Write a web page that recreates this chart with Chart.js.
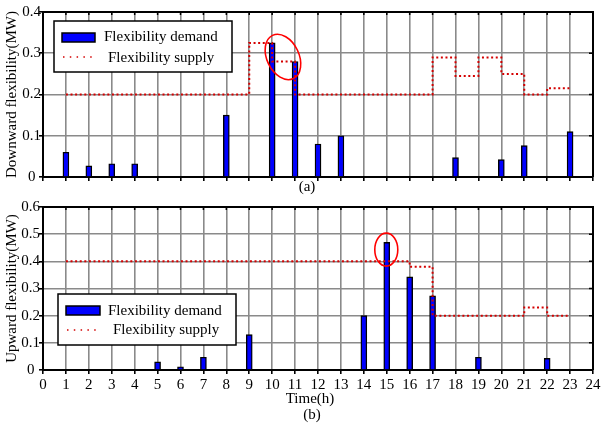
<!DOCTYPE html>
<html>
<head>
<meta charset="utf-8">
<script src="https://cdn.jsdelivr.net/npm/chart.js@4.4.0/dist/chart.umd.min.js"></script>
<style>
body { margin: 0; background: #fff; }
#wrap { position: relative; width: 605px; height: 428px; }
#chartA { position: absolute; left: 0; top: 0; }
#chartB { position: absolute; left: 0; top: 195px; }
</style>
</head>
<body>
<div id="wrap">
  <canvas id="chartA" width="605" height="195"></canvas>
  <canvas id="chartB" width="605" height="233"></canvas>
</div>
<script>
// hours 1..23 for the supply step lines
var supplyHours = [1,2,3,4,5,6,7,8,9,10,11,12,13,14,15,16,17,18,19,20,21,22,23];

// (a) downward flexibility
var downHours = [1, 2, 3, 4, 8, 10, 11, 12, 13, 18, 20, 21, 23];
var downDemand = [0.06, 0.027, 0.032, 0.032, 0.15, 0.325, 0.28, 0.08, 0.1, 0.047, 0.042, 0.076, 0.11];
var downSupply = [0.2, 0.2, 0.2, 0.2, 0.2, 0.2, 0.2, 0.2, 0.325, 0.28, 0.2, 0.2, 0.2, 0.2, 0.2, 0.2,
                  0.29, 0.245, 0.29, 0.25, 0.2, 0.215, 0.215];

// (b) upward flexibility
var upHours = [5, 6, 7, 9, 14, 15, 16, 17, 19, 22];
var upDemand = [0.03, 0.012, 0.047, 0.13, 0.2, 0.47, 0.343, 0.273, 0.047, 0.043];
var upSupply = [0.4, 0.4, 0.4, 0.4, 0.4, 0.4, 0.4, 0.4, 0.4, 0.4, 0.4, 0.4, 0.4, 0.4, 0.4,
                0.38, 0.2, 0.2, 0.2, 0.2, 0.23, 0.2, 0.2];

var legendLabels = ['Flexibility demand', 'Flexibility supply'];

var FONT = 'Liberation Serif';
var RED = '#d40000';

function toPoints(xs, ys) {
    var pts = [];
    for (var i = 0; i < xs.length; i++) {
        pts.push({x: xs[i], y: ys[i]});
    }
    return pts;
}

// frame, inner ticks, ellipse, legend box and the loose texts
var extras = {
    id: 'extras',
    afterDraw: function(chart, args, o) {
        var ctx = chart.ctx;
        var a = chart.chartArea;
        var sx = chart.scales.x, sy = chart.scales.y;
        ctx.save();

        // top and right border
        ctx.strokeStyle = '#000';
        ctx.lineWidth = 2;
        ctx.beginPath();
        ctx.moveTo(a.left, a.top);
        ctx.lineTo(a.right, a.top);
        ctx.lineTo(a.right, a.bottom);
        ctx.stroke();

        // inward ticks on top and right
        ctx.lineWidth = 1.5;
        ctx.beginPath();
        sx.ticks.forEach(function(t) {
            var px = sx.getPixelForValue(t.value);
            ctx.moveTo(px, a.top);
            ctx.lineTo(px, a.top + 3);
        });
        sy.ticks.forEach(function(t) {
            var py = sy.getPixelForValue(t.value);
            ctx.moveTo(a.right, py);
            ctx.lineTo(a.right - 4, py);
        });
        ctx.stroke();

        // red ellipse
        var e = o.ellipse;
        ctx.strokeStyle = '#ff0000';
        ctx.lineWidth = 1.6;
        ctx.beginPath();
        ctx.ellipse(sx.getPixelForValue(e.x), sy.getPixelForValue(e.y), e.rx, e.ry, e.rot, 0, Math.PI * 2);
        ctx.stroke();

        // legend
        var L = o.legend;
        ctx.fillStyle = '#fff';
        ctx.fillRect(L.x, L.y, L.w, L.h);
        ctx.strokeStyle = '#000';
        ctx.lineWidth = 1.5;
        ctx.strokeRect(L.x, L.y, L.w, L.h);

        ctx.fillStyle = '#0000ff';
        ctx.fillRect(L.sw[0], L.sw[1], L.sw[2], L.sw[3]);
        ctx.strokeStyle = '#000';
        ctx.lineWidth = 1.5;
        ctx.strokeRect(L.sw[0], L.sw[1], L.sw[2], L.sw[3]);

        ctx.strokeStyle = RED;
        ctx.lineWidth = 1.5;
        ctx.setLineDash([1.5, 5.3]);
        ctx.beginPath();
        ctx.moveTo(L.dots[0], L.dots[2]);
        ctx.lineTo(L.dots[1], L.dots[2]);
        ctx.stroke();
        ctx.setLineDash([]);

        ctx.fillStyle = '#000';
        ctx.font = '15px "' + FONT + '"';
        ctx.textAlign = 'left';
        ctx.textBaseline = 'middle';
        ctx.fillText(legendLabels[0], L.t1[0], L.t1[1]);
        ctx.fillText(legendLabels[1], L.t2[0], L.t2[1]);

        // captions under the axis
        ctx.textAlign = 'center';
        o.texts.forEach(function(t) {
            ctx.fillText(t[0], t[1], t[2]);
        });
        ctx.restore();
    }
};

function makeChart(id, dHours, dVals, sVals, yMax, yTitle, showX, xHeight, tickPad, extraOpts) {
    var gridOpts = {color: '#8a8a8a', lineWidth: 1.6, tickLength: 4, tickColor: '#000', offset: false};
    return new Chart(document.getElementById(id), {
        type: 'bar',
        data: {
            datasets: [{
                type: 'bar',
                data: toPoints(dHours, dVals),
                backgroundColor: '#0000ff',
                borderColor: '#000',
                borderWidth: 1.4,
                barThickness: 6,
                order: 1
            }, {
                type: 'line',
                data: toPoints(supplyHours, sVals),
                borderColor: RED,
                borderWidth: 2,
                borderDash: [2, 2.6],
                stepped: 'before',
                pointRadius: 0,
                fill: false,
                order: 0
            }]
        },
        options: {
            responsive: false,
            animation: false,
            layout: {padding: {top: 12, right: 12, left: 0, bottom: 0}},
            plugins: {
                legend: {display: false},
                tooltip: {enabled: false},
                extras: extraOpts
            },
            scales: {
                x: {
                    type: 'linear',
                    min: 0,
                    max: 24,
                    offset: false,
                    ticks: {stepSize: 1, display: showX, autoSkip: false, maxRotation: 0,
                            padding: 2, color: '#000', font: {family: FONT, size: 15}},
                    grid: gridOpts,
                    border: {color: '#000', width: 2},
                    afterFit: function(s) { s.height = xHeight; }
                },
                y: {
                    min: 0,
                    max: yMax,
                    ticks: {stepSize: 0.1, crossAlign: 'center', padding: tickPad,
                            color: '#000', font: {family: FONT, size: 15}},
                    grid: gridOpts,
                    border: {color: '#000', width: 2},
                    title: {display: true, text: yTitle, color: '#000',
                            font: {family: FONT, size: 15}, padding: {top: 3, bottom: 0}},
                    afterFit: function(s) { s.width = 43; }
                }
            }
        },
        plugins: [extras]
    });
}

makeChart('chartA', downHours, downDemand, downSupply, 0.4, 'Downward flexibility(MW)', false, 18, -2, {
    ellipse: {x: 10.47, y: 0.291, rx: 16, ry: 24, rot: -0.45},
    legend: {x: 54, y: 21, w: 178, h: 51, sw: [62, 33, 33, 9], dots: [63, 95, 57],
             t1: [104, 37.5], t2: [108, 58]},
    texts: [['(a)', 307, 187]]
});

makeChart('chartB', upHours, upDemand, upSupply, 0.6, 'Upward flexibility(MW)', true, 58, -1, {
    ellipse: {x: 14.98, y: 0.443, rx: 11.5, ry: 16.5, rot: 0},
    legend: {x: 58, y: 99, w: 178, h: 51, sw: [66, 111, 34, 9], dots: [67, 97, 135],
             t1: [108, 116], t2: [113, 135]},
    texts: [['Time(h)', 310, 204], ['(b)', 312, 220]]
});
</script>
</body>
</html>
